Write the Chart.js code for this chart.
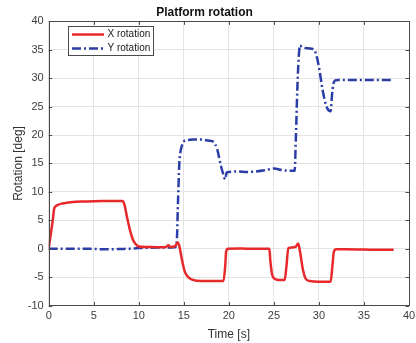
<!DOCTYPE html>
<html><head><meta charset="utf-8">
<script src="https://cdn.jsdelivr.net/npm/chart.js@4/dist/chart.umd.min.js"></script>
<style>html,body{margin:0;padding:0;background:#fff}#wrap{width:416px;height:343px}</style>
</head><body><div id="wrap"><canvas id="c" width="416" height="343"></canvas></div>
<script>
const xTime = [0,0.2,0.45,0.6,0.8,1,1.5,2,3,4,5,6,7,8.2,8.4,8.7,9.0,9.3,9.6,10,11,12,13,13.3,13.5,14,14.3,14.5,14.8,15.1,15.5,16,17,18,19.4,19.6,19.7,19.9,21,22,23,24.5,24.6,24.8,25.1,25.5,26.2,26.4,26.6,27,27.4,27.7,27.9,28.2,28.5,29,30,31.3,31.5,31.65,31.9,33,35,37,38.3];
const xRot  = [0,2.2,5,7,7.5,7.7,7.95,8.1,8.25,8.3,8.35,8.38,8.4,8.4,7.8,5.5,3.4,1.8,0.9,0.4,0.3,0.25,0.3,0.6,0.3,0.4,1.1,0.5,-2,-4,-5,-5.5,-5.7,-5.7,-5.7,-3,-0.5,0,0.05,0,0,0,-2,-4.5,-5.3,-5.5,-5.5,-3,0.1,0.2,0.3,0.9,-0.5,-3.5,-5.2,-5.7,-5.8,-5.8,-3,-0.6,-0.1,-0.1,-0.15,-0.2,-0.2];
const yTime = [0,2,4,5,6,7,8,9,10,11,12,13,14,14.2,14.35,14.5,14.6,14.8,15.0,15.4,16,17,17.8,18.3,18.7,19.1,19.4,19.6,19.75,20,21,22,23,24,25,26,27.3,27.45,27.6,27.75,27.9,28.1,28.5,29.2,29.6,30,30.4,30.8,31.1,31.3,31.45,31.6,31.8,32.2,34,36,38.3];
const yRot  = [0,0,0,-0.05,-0.1,-0.1,-0.05,0,0.1,0.15,0.2,0.2,0.25,0.8,8,15,16.8,18.2,18.9,19.1,19.2,19.2,19.0,18.8,17.5,14.7,13,12.2,13.4,13.5,13.6,13.5,13.6,13.8,14.1,13.8,13.7,20,28,33.5,35.8,35.5,35.3,35.2,34.6,32,28,25.2,24.3,24.2,27,29,29.6,29.7,29.7,29.7,29.7];
const seriesLabels = ['X rotation','Y rotation'];
const xTicksStep = 5, yTicksStep = 5;
const xRange = [0,40], yRange = [-10,40];

const FONT = '"Liberation Sans", Arial, Helvetica, sans-serif';
const toPts = (t,v) => t.map((x,i)=>({x:x,y:v[i]}));

const frame = {
  id:'frame',
  afterDraw(chart){
    const {ctx, chartArea:a, scales:{x,y}} = chart;
    ctx.save();
    ctx.strokeStyle = '#4a4a4a'; ctx.lineWidth = 1;
    ctx.beginPath();
    x.ticks.forEach(t=>{const p=Math.round(x.getPixelForValue(t.value))+0.5;
      ctx.moveTo(p,a.bottom); ctx.lineTo(p,a.bottom-3.5); ctx.moveTo(p,a.top); ctx.lineTo(p,a.top+3.5);});
    y.ticks.forEach(t=>{const p=Math.round(y.getPixelForValue(t.value))+0.5;
      ctx.moveTo(a.left,p); ctx.lineTo(a.left+3.5,p); ctx.moveTo(a.right,p); ctx.lineTo(a.right-3.5,p);});
    ctx.stroke();
    ctx.strokeRect(Math.round(a.left)+0.5, Math.round(a.top)+0.5, Math.round(a.right-a.left), Math.round(a.bottom-a.top));
    // legend
    const lx=68.5, ly=26.5, lw=85, lh=29;
    ctx.fillStyle='#fff'; ctx.fillRect(lx,ly,lw,lh);
    ctx.strokeStyle='#4a4a4a'; ctx.lineWidth=1; ctx.strokeRect(lx,ly,lw,lh);
    ctx.font = '10px '+FONT; ctx.fillStyle='#1a1a1a'; ctx.textBaseline='middle'; ctx.textAlign='left';
    chart.data.datasets.forEach((d,i)=>{
      const yy = 34.5 + i*14;
      ctx.strokeStyle=d.borderColor; ctx.lineWidth=d.borderWidth; ctx.setLineDash(d.borderDash||[]);
      ctx.beginPath(); ctx.moveTo(72,yy); ctx.lineTo(104,yy); ctx.stroke();
      ctx.setLineDash([]);
      ctx.fillText(d.label, 107.5, yy);
    });
    ctx.restore();
  }
};

new Chart(document.getElementById('c'), {
  type:'line',
  data:{datasets:[
    {label:seriesLabels[0], data:toPts(xTime,xRot), borderColor:'#e8292b', borderWidth:2.5, pointRadius:0, cubicInterpolationMode:'monotone', fill:false},
    {label:seriesLabels[1], data:toPts(yTime,yRot), borderColor:'#2b3da6', borderWidth:2.5, borderDash:[9,3,2,3], pointRadius:0, cubicInterpolationMode:'monotone', fill:false}
  ]},
  options:{
    responsive:false, animation:false, devicePixelRatio:1,
    layout:{padding:{left:0,right:7,top:1,bottom:0}},
    plugins:{
      legend:{display:false}, tooltip:{enabled:false},
      title:{display:true, text:'Platform rotation', color:'#111', font:{family:FONT, size:12, weight:'bold'}, padding:{top:4,bottom:2}}
    },
    scales:{
      x:{type:'linear', min:xRange[0], max:xRange[1],
        ticks:{stepSize:xTicksStep, color:'#404040', font:{family:FONT,size:11}, padding:4, maxRotation:0},
        grid:{color:'#e4e4e4', drawTicks:false}, border:{display:false},
        title:{display:true, text:'Time [s]', color:'#333', font:{family:FONT,size:12}, padding:{top:0,bottom:1.5}},
        afterFit(s){s.height=37.5; s.paddingRight=0; s.paddingLeft=0;}
      },
      y:{min:yRange[0], max:yRange[1],
        ticks:{stepSize:yTicksStep, color:'#404040', font:{family:FONT,size:11}, padding:5},
        grid:{color:'#e4e4e4', drawTicks:false}, border:{display:false},
        title:{display:true, text:'Rotation [deg]', color:'#333', font:{family:FONT,size:12}, padding:{top:11,bottom:0}},
        afterFit(s){s.width=48.7; s.paddingTop=0; s.paddingBottom=0;}
      }
    }
  },
  plugins:[frame]
});
</script></body></html>
